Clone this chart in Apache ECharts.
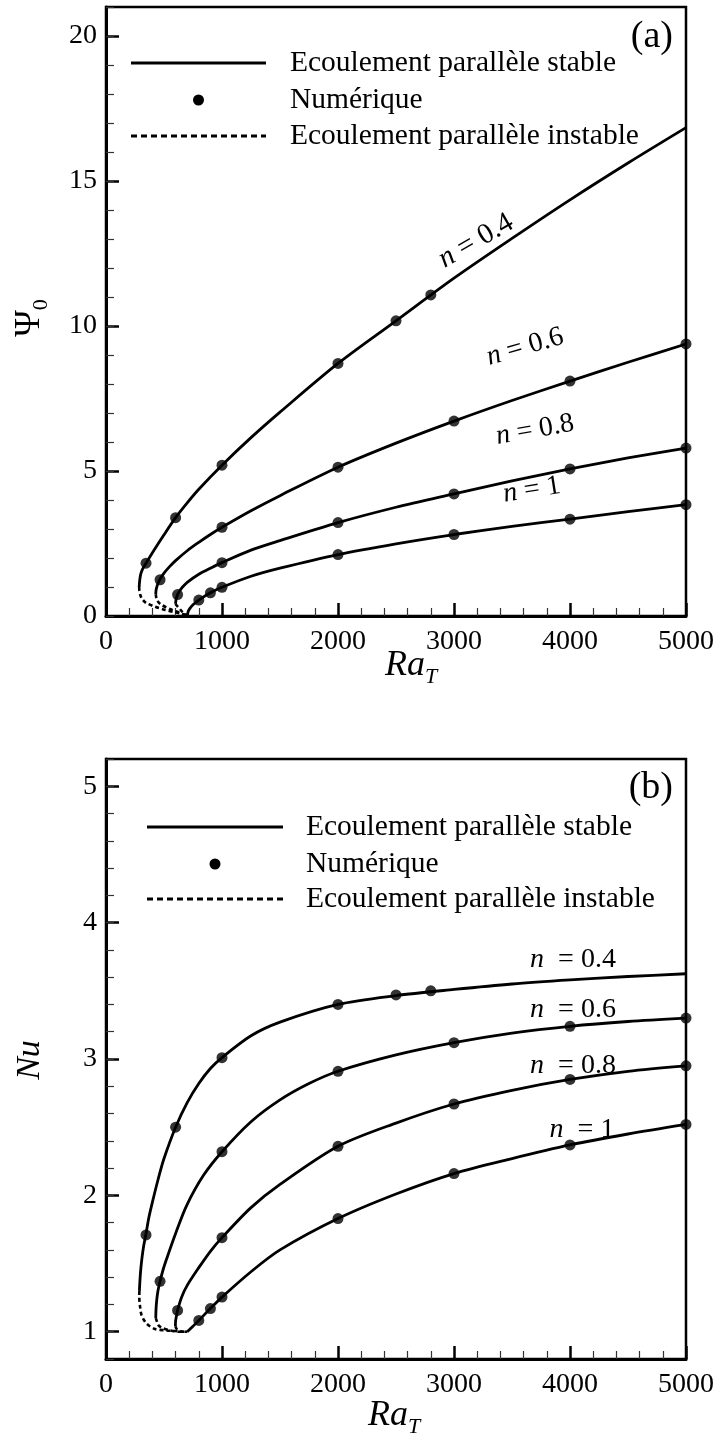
<!DOCTYPE html>
<html><head><meta charset="utf-8">
<script src="https://cdn.jsdelivr.net/npm/echarts@6/dist/echarts.min.js"></script>
<style>html,body{margin:0;padding:0;background:#fff}#c{width:722px;height:1441px}</style>
</head><body><div id="c"></div>
<script>
// ---------- axis ticks ----------
const xTicks = [0, 1000, 2000, 3000, 4000, 5000];
const yTicksA = [0, 5, 10, 15, 20];
const yTicksB = [1, 2, 3, 4, 5];

// ---------- panel (a): Psi0 vs RaT ----------
const psiStable04 = [[286,1.0],[288,1.12],[293,1.3],[300,1.45],[315,1.62],[345,1.82],[400,2.18],[500,2.8],[600,3.39],[700,3.9],[800,4.37],[1000,5.2],[1250,6.15],[1500,7.03],[2000,8.71],[2500,10.18],[3000,11.65],[3500,13.02],[4000,14.35],[4500,15.62],[5000,16.84]];
const psiStable06 = [[429,0.75],[431,0.87],[437,0.99],[448,1.12],[466,1.27],[500,1.48],[550,1.71],[600,1.91],[700,2.25],[800,2.54],[900,2.81],[1000,3.06],[1250,3.63],[1500,4.15],[2000,5.13],[2500,5.96],[3000,6.72],[3500,7.43],[4000,8.1],[4500,8.75],[5000,9.38]];
const psiStable08 = [[600,0.42],[602,0.52],[608,0.63],[617,0.74],[635,0.87],[660,1.0],[700,1.16],[800,1.44],[900,1.65],[1000,1.84],[1250,2.27],[1500,2.6],[2000,3.22],[2500,3.75],[3000,4.21],[3500,4.66],[4000,5.07],[4500,5.45],[5000,5.79]];
const psiStable1 = [[700,0],[710,0.17],[725,0.27],[750,0.39],[800,0.55],[900,0.8],[1000,0.99],[1250,1.37],[1500,1.65],[2000,2.12],[2500,2.49],[3000,2.81],[3500,3.09],[4000,3.34],[4500,3.6],[5000,3.84]];
const psiUnstable04 = [[286,1.0],[288,0.88],[295,0.74],[307,0.61],[330,0.5],[350,0.44],[422,0.32],[509,0.21],[595,0.13],[667,0.06],[705,0]];
const psiUnstable06 = [[429,0.75],[433,0.64],[440,0.55],[455,0.46],[480,0.38],[552,0.24],[624,0.13],[705,0]];
const psiUnstable08 = [[600,0.42],[610,0.36],[624,0.3],[652,0.17],[681,0.07],[705,0]];
const psiNum04 = [[345,1.82],[600,3.39],[1000,5.2],[2000,8.71],[2500,10.18],[2800,11.07]];
const psiNum06 = [[466,1.25],[1000,3.06],[2000,5.13],[3000,6.72],[4000,8.1],[5000,9.38]];
const psiNum08 = [[617,0.74],[1000,1.84],[2000,3.22],[3000,4.21],[4000,5.07],[5000,5.79]];
const psiNum1 = [[800,0.55],[900,0.8],[1000,0.99],[2000,2.12],[3000,2.81],[4000,3.34],[5000,3.84]];

// ---------- panel (b): Nu vs RaT ----------
const nuStable04 = [[288,1.3],[293,1.38],[300,1.46],[310,1.54],[325,1.63],[345,1.72],[370,1.84],[400,1.95],[450,2.12],[500,2.27],[600,2.5],[700,2.68],[800,2.82],[900,2.93],[1000,3.01],[1250,3.17],[1500,3.27],[2000,3.40],[2500,3.465],[3000,3.51],[3500,3.55],[4000,3.58],[4500,3.605],[5000,3.625]];
const nuStable06 = [[429,1.1],[431,1.16],[437,1.23],[448,1.3],[466,1.37],[494,1.46],[523,1.535],[600,1.72],[695,1.925],[839,2.145],[1000,2.32],[1250,2.54],[1500,2.7],[1750,2.82],[2000,2.91],[2500,3.03],[3000,3.12],[3500,3.19],[4000,3.24],[4500,3.275],[5000,3.30]];
const nuStable08 = [[598,1.04],[600,1.08],[606,1.11],[617,1.156],[650,1.25],[700,1.34],[800,1.47],[900,1.59],[1000,1.69],[1250,1.91],[1500,2.08],[2000,2.36],[2500,2.53],[3000,2.67],[3500,2.77],[4000,2.85],[4500,2.91],[5000,2.95]];
const nuStable1 = [[700,1.0],[750,1.04],[800,1.083],[900,1.17],[1000,1.254],[1250,1.44],[1500,1.6],[2000,1.83],[2500,2.01],[3000,2.16],[3500,2.27],[4000,2.37],[4500,2.45],[5000,2.52]];
const nuUnstable04 = [[288,1.3],[287,1.25],[293,1.19],[307,1.12],[350,1.06],[422,1.02],[509,1.01],[595,1.005],[667,1.0],[700,1.0]];
const nuUnstable06 = [[429,1.1],[437,1.08],[450,1.05],[480,1.03],[552,1.01],[624,1.0],[700,1.0]];
const nuUnstable08 = [[598,1.04],[610,1.02],[630,1.01],[660,1.0],[700,1.0]];
const nuNum04 = [[345,1.71],[600,2.5],[1000,3.01],[2000,3.40],[2500,3.47],[2800,3.50]];
const nuNum06 = [[466,1.37],[1000,2.32],[2000,2.91],[3000,3.12],[4000,3.24],[5000,3.30]];
const nuNum08 = [[617,1.156],[1000,1.69],[2000,2.36],[3000,2.67],[4000,2.85],[5000,2.95]];
const nuNum1 = [[800,1.083],[900,1.17],[1000,1.254],[2000,1.83],[3000,2.16],[4000,2.37],[5000,2.52]];

const legendNames = ['Ecoulement parallèle stable', 'Numérique', 'Ecoulement parallèle instable'];

// ---------- build ----------
const FONT = 'Liberation Serif';
const chart = echarts.init(document.getElementById('c'));

function xAxis(gi) {
  return {
    type: 'value', gridIndex: gi, min: 0, max: 5000, interval: 1000, position: 'bottom',
    axisLine: {show: true, onZero: false, lineStyle: {color: '#000', width: 3}},
    axisTick: {show: true, inside: true, length: 13, lineStyle: {color: '#000', width: 2.5}},
    minorTick: {show: true, splitNumber: 5, length: 8, lineStyle: {color: '#333', width: 1.2}},
    axisLabel: {color: '#000', fontFamily: FONT, fontSize: 28, margin: 12, customValues: xTicks, formatter: v => String(v)},
    splitLine: {show: false}, minorSplitLine: {show: false}
  };
}
function yMajor(gi, min, max, ticks) {
  return {
    type: 'value', gridIndex: gi, min: min, max: max, position: 'left',
    axisLine: {show: true, onZero: false, lineStyle: {color: '#000', width: 3}},
    axisTick: {show: true, inside: true, length: 13, customValues: ticks, lineStyle: {color: '#000', width: 2.5}},
    axisLabel: {color: '#000', fontFamily: FONT, fontSize: 28, margin: 9, customValues: ticks, formatter: v => String(v)},
    splitLine: {show: false}
  };
}
function yMinor(gi, min, max, step) {
  return {
    type: 'value', gridIndex: gi, min: min, max: max, interval: step, position: 'left',
    axisLine: {show: false},
    axisTick: {show: true, inside: true, length: 8, lineStyle: {color: '#333', width: 1.2}},
    axisLabel: {show: false}, splitLine: {show: false}
  };
}
function stable(data, xi, yi) {
  return {name: legendNames[0], type: 'line', data: data, xAxisIndex: xi, yAxisIndex: yi, smooth: 0.3,
    showSymbol: false, lineStyle: {color: '#000', width: 2.8}, z: 3, silent: true};
}
function unstable(data, xi, yi) {
  return {name: legendNames[2], type: 'line', data: data, xAxisIndex: xi, yAxisIndex: yi, smooth: 0.3,
    showSymbol: false, lineStyle: {color: '#000', width: 2.6, type: [4, 3]}, z: 3, silent: true};
}
function dots(data, xi, yi) {
  return {name: legendNames[1], type: 'scatter', data: data, xAxisIndex: xi, yAxisIndex: yi,
    symbol: 'circle', symbolSize: 11, itemStyle: {color: '#000'}, z: 5, silent: true};
}

function txt(x, y, text, size, opts) {
  return Object.assign({
    type: 'text', x: x, y: y, silent: true,
    style: Object.assign({text: text, fontFamily: FONT, fontSize: size, fill: '#000', align: 'left', verticalAlign: 'middle'}, (opts && opts.style) || {})
  }, opts && opts.el || {});
}
function nLabel(cx, cy, rotDeg, text, size) {
  return {
    type: 'text', x: cx, y: cy, rotation: rotDeg * Math.PI / 180, silent: true,
    style: {text: '{i|n}' + text, fontFamily: FONT, fontSize: size, fill: '#000', align: 'center', verticalAlign: 'middle',
      rich: {i: {fontStyle: 'italic', fontFamily: FONT, fontSize: size, fill: '#000'}}}
  };
}
function legendBlock(x1, x2, yRows, tx) {
  const cx = (x1 + x2) / 2;
  return [
    {type: 'line', silent: true, shape: {x1: x1, y1: yRows[0], x2: x2, y2: yRows[0]}, style: {stroke: '#000', lineWidth: 3}},
    {type: 'circle', silent: true, shape: {cx: cx, cy: yRows[1], r: 5.5}, style: {fill: '#000'}},
    {type: 'line', silent: true, shape: {x1: x1, y1: yRows[2], x2: x2, y2: yRows[2]}, style: {stroke: '#000', lineWidth: 3, lineDash: [6, 4]}},
    txt(tx, yRows[0], legendNames[0], 29.5),
    txt(tx, yRows[1], legendNames[1], 29.5),
    txt(tx, yRows[2], legendNames[2], 29.5)
  ];
}
function axisTitle(x, y, main, sub, italic) {
  return {type: 'text', x: x, y: y, silent: true,
    style: {text: '{r|' + main + '}{s|' + sub + '}', align: 'left', verticalAlign: 'middle', fill: '#000',
      rich: {r: {fontFamily: FONT, fontSize: 36, fontStyle: italic ? 'italic' : 'normal', fill: '#000', lineHeight: 44},
             s: {fontFamily: FONT, fontSize: 22, fontStyle: italic ? 'italic' : 'normal', fill: '#000', verticalAlign: 'bottom', lineHeight: 44}}}};
}

const psiTitle = axisTitle(0, 0, 'Ψ', '0', false);
psiTitle.x = 30; psiTitle.y = 318; psiTitle.rotation = Math.PI / 2; psiTitle.style.align = 'center';

const graphics = [].concat(
  legendBlock(131, 266, [63, 100, 136], 290),
  legendBlock(147, 283, [827, 864, 899], 306),
  [
    txt(673, 37, '(a)', 38, {style: {align: 'right'}}),
    txt(673, 788, '(b)', 38, {style: {align: 'right'}}),
    psiTitle,
    {type: 'text', x: 30, y: 1060, rotation: Math.PI / 2, silent: true,
      style: {text: 'Nu', fontFamily: FONT, fontSize: 34, fontStyle: 'italic', align: 'center', verticalAlign: 'middle', fill: '#000'}},
    axisTitle(385, 666, 'Ra', 'T', true),
    axisTitle(368, 1416, 'Ra', 'T', true),
    // curve labels (a)
    nLabel(476, 241, 30, ' = 0.4', 29),
    nLabel(525, 347, 16, ' = 0.6', 28),
    nLabel(535, 430, 10, ' = 0.8', 28),
    nLabel(532, 490, 9, ' = 1', 28),
    // curve labels (b)
    nLabel(573, 960, 0, '  = 0.4', 28),
    nLabel(573, 1010, 0, '  = 0.6', 28),
    nLabel(573, 1066, 0, '  = 0.8', 28),
    nLabel(582, 1130, 0, '  = 1', 28)
  ]
);

chart.setOption({
  animation: false,
  backgroundColor: '#fff',
  grid: [
    {left: 106, top: 7, width: 580, height: 609, show: true, borderColor: '#000', borderWidth: 2.5, containLabel: false},
    {left: 106, top: 759, width: 580, height: 600, show: true, borderColor: '#000', borderWidth: 2.5, containLabel: false}
  ],
  xAxis: [xAxis(0), xAxis(1)],
  yAxis: [yMajor(0, 0, 21, yTicksA), yMinor(0, 0, 21, 1), yMajor(1, 0.8, 5.2, yTicksB), yMinor(1, 0.8, 5.2, 0.2)],
  series: [
    stable(psiStable04, 0, 0), stable(psiStable06, 0, 0), stable(psiStable08, 0, 0), stable(psiStable1, 0, 0),
    unstable(psiUnstable04, 0, 0), unstable(psiUnstable06, 0, 0), unstable(psiUnstable08, 0, 0),
    dots(psiNum04, 0, 0), dots(psiNum06, 0, 0), dots(psiNum08, 0, 0), dots(psiNum1, 0, 0),
    stable(nuStable04, 1, 2), stable(nuStable06, 1, 2), stable(nuStable08, 1, 2), stable(nuStable1, 1, 2),
    unstable(nuUnstable04, 1, 2), unstable(nuUnstable06, 1, 2), unstable(nuUnstable08, 1, 2),
    dots(nuNum04, 1, 2), dots(nuNum06, 1, 2), dots(nuNum08, 1, 2), dots(nuNum1, 1, 2)
  ],
  graphic: graphics
});
</script></body></html>
